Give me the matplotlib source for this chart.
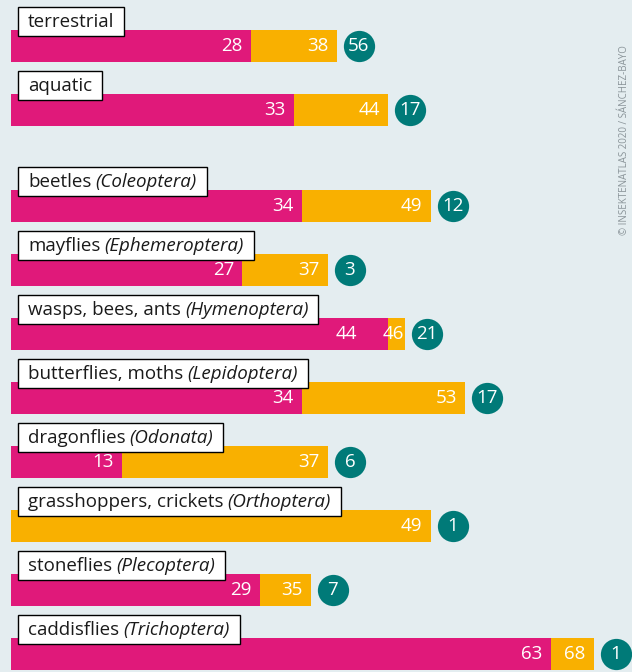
import matplotlib.pyplot as plt
from matplotlib.patches import Rectangle
from matplotlib.transforms import IdentityTransform

plt.rcParams['font.family'] = ['Open Sans', 'DejaVu Sans']

# data
names = ['terrestrial', 'aquatic', 'beetles', 'mayflies', 'wasps, bees, ants',
         'butterflies, moths', 'dragonflies', 'grasshoppers, crickets',
         'stoneflies', 'caddisflies']
latin = ['', '', '(Coleoptera)', '(Ephemeroptera)', '(Hymenoptera)',
         '(Lepidoptera)', '(Odonata)', '(Orthoptera)', '(Plecoptera)', '(Trichoptera)']
first = [28, 33, 34, 27, 44, 34, 13, 0, 29, 63]
total = [38, 44, 49, 37, 46, 53, 37, 49, 35, 68]
count = [56, 17, 12, 3, 21, 17, 6, 1, 7, 1]
rows = [0, 1, 2.5, 3.5, 4.5, 5.5, 6.5, 7.5, 8.5, 9.5]

pink = '#e0197a'
yellow = '#f9b000'
teal = '#007a78'
bg = '#e4edf0'

fig = plt.figure(figsize=(6.32, 6.72), dpi=100, facecolor=bg)
ax = fig.add_axes([0, 0, 1, 1])
ax.set_facecolor(bg)
ax.set_xlim(-1.28, 72.46)
ax.set_ylim(9.78, -0.72)
ax.axis('off')

fs = 13.5
h = 0.5
labels = []
for i, (y, a, t, c, n, l) in enumerate(zip(rows, first, total, count, names, latin)):
    ax.barh(y, a, height=h, color=pink, linewidth=0, zorder=1)
    ax.barh(y, t - a, left=a, height=h, color=yellow, linewidth=0, zorder=1)
    # the wasps row has the two numbers squeezed together
    off_a, off_t = (-22, -1) if t - a < 3 else (-6, -6)
    if a > 0:
        ax.annotate(str(a), (a, y), xytext=(off_a, 0), textcoords='offset points',
                    ha='right', va='center', color='white', fontsize=fs, zorder=2)
    ax.annotate(str(t), (t, y), xytext=(off_t, 0), textcoords='offset points',
                ha='right', va='center', color='white', fontsize=fs, zorder=2)
    cx = t + 2.55
    ax.plot(cx, y, 'o', markersize=22.5, color=teal, markeredgewidth=0, zorder=2)
    ax.text(cx, y, str(c), ha='center', va='center', color='white', fontsize=fs, zorder=3)

    t1 = ax.text(1.98, y - 0.383, n, ha='left', va='center', fontsize=fs,
                 color='#1a1a1a', zorder=5)
    parts = [t1]
    if l:
        t2 = ax.annotate(l, xy=(1, 0), xycoords=t1, xytext=(3, 0),
                         textcoords='offset points', ha='left', va='bottom',
                         fontsize=fs, style='italic', color='#1a1a1a', zorder=5)
        parts.append(t2)
    labels.append((y, parts))

# white frames behind the category names
fig.canvas.draw()
r = fig.canvas.get_renderer()
for y, parts in labels:
    ext = [p.get_window_extent(r) for p in parts]
    x0 = min(e.x0 for e in ext) - 10
    x1 = max(e.x1 for e in ext) + 10
    yc = ax.transData.transform((0, y - 0.383))[1]
    ax.add_patch(Rectangle((x0, yc - 14.5), x1 - x0, 29, transform=IdentityTransform(),
                           facecolor='white', edgecolor='black', linewidth=1, zorder=4))

fig.text(0.988, 0.65, '© INSEKTENATLAS 2020 / SÁNCHEZ-BAYO',
         rotation=90, ha='center', va='bottom', color='#8a9499', fontsize=7)

fig.savefig('out.png', dpi=100, facecolor=bg)
